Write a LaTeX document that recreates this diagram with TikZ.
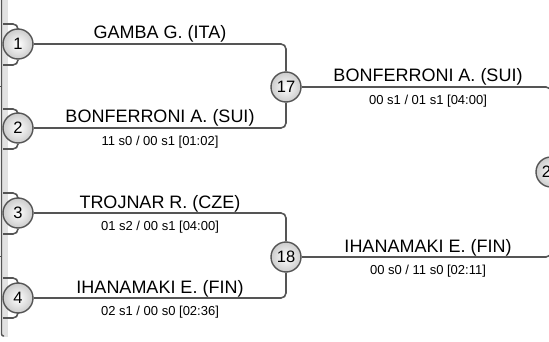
\documentclass[tikz,border=0pt]{standalone}
\usepackage{fontspec}
\setmainfont{Liberation Sans}
\usetikzlibrary{backgrounds}
\begin{document}
\begin{tikzpicture}[x=1pt,y=-1pt,
  wire/.style={draw=linegray,line width=1.6pt,rounded corners=5pt},
  seed/.style={circle,draw=linegray,line width=1.4pt,minimum size=30pt,inner sep=0pt,
    inner color=white,outer color=gray!40,font=\fontsize{16.5}{16.5}\selectfont},
  player/.style={anchor=base,font=\fontsize{18}{18}\selectfont,inner sep=0pt},
  score/.style={anchor=base,font=\fontsize{13}{13}\selectfont,inner sep=0pt}]
\definecolor{linegray}{HTML}{555555}
\definecolor{bandgray}{HTML}{E2E2E2}
\useasboundingbox (0,0) rectangle (549,342);
\clip (0,0) rectangle (549,342);
% nodes
\node[seed] (c1) at (18,44) {1};
\node[seed] (c2) at (18,128) {2};
\node[seed] (c3) at (18,213) {3};
\node[seed] (c4) at (18,298) {4};
\node[seed] (c17) at (286,87) {17};
\node[seed] (c18) at (286,257) {18};
\node[seed] (c25) at (551,172) {25};
% stubs from previous round
\coordinate (s1a) at (3,24);  \coordinate (s1b) at (3,65);
\coordinate (s2a) at (3,109); \coordinate (s2b) at (3,149);
\coordinate (s3a) at (3,193); \coordinate (s3b) at (3,234);
\coordinate (s4a) at (3,278); \coordinate (s4b) at (3,318);
\coordinate (e0) at (1.5,-2); \coordinate (e1) at (1.5,336); \coordinate (e2) at (4,336);
\coordinate (k1a) at (-1,87);  \coordinate (k1b) at (1.5,87);
\coordinate (k2a) at (-1,256); \coordinate (k2b) at (1.5,256);
\begin{pgfonlayer}{background}
% left panel edge
\fill[bandgray] (2,-2) rectangle (8,337);
\draw[linegray,line width=1.4pt,rounded corners=2pt] (e0) -- (e1) -- (e2);
\draw[linegray,line width=1pt] (k1a) -- (k1b);
\draw[linegray,line width=1pt] (k2a) -- (k2b);
\foreach \a/\b in {s1a/c1,s1b/c1,s2a/c2,s2b/c2,s3a/c3,s3b/c3,s4a/c4,s4b/c4}
  \draw[wire] (\a) -| (\b);
\draw[wire] (c1) -| (c17);
\draw[wire] (c2) -| (c17);
\draw[wire] (c3) -| (c18);
\draw[wire] (c4) -| (c18);
\draw[wire] (c17) -| (c25);
\draw[wire] (c18) -| (c25);
\end{pgfonlayer}
% labels
\node[player] (n1) at (160,39) {GAMBA G. (ITA)};
\node[player] (n2) at (160,123) {BONFERRONI A. (SUI)};
\node[score] (t2) at (160,145.5) {11 s0 / 00 s1 [01:02]};
\node[player] (n3) at (160,208) {TROJNAR R. (CZE)};
\node[score] (t3) at (160,230.5) {01 s2 / 00 s1 [04:00]};
\node[player] (n4) at (160,293) {IHANAMAKI E. (FIN)};
\node[score] (t4) at (160,315.5) {02 s1 / 00 s0 [02:36]};
\node[player] (n17) at (428,82) {BONFERRONI A. (SUI)};
\node[score] (t17) at (428,104.5) {00 s1 / 01 s1 [04:00]};
\node[player] (n18) at (428,252) {IHANAMAKI E. (FIN)};
\node[score] (t18) at (428,274.5) {00 s0 / 11 s0 [02:11]};
\end{tikzpicture}
\end{document}
